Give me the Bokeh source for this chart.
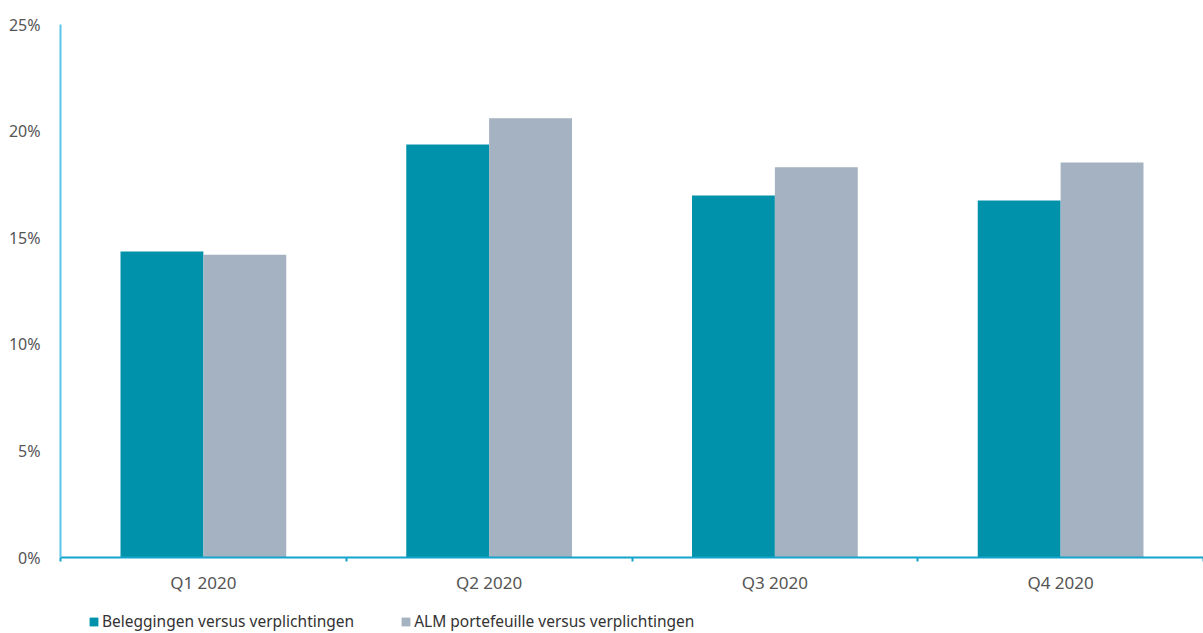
from bokeh.plotting import figure
from bokeh.layouts import column
from bokeh.models import (ColumnDataSource, FixedTicker, PrintfTickFormatter, Range1d,
                          Legend, LegendItem)
from bokeh.transform import dodge
from bokeh.embed import file_html
from bokeh.resources import INLINE

quarters = ["Q1 2020", "Q2 2020", "Q3 2020", "Q4 2020"]
beleggingen = [14.35, 19.37, 16.98, 16.75]
alm = [14.2, 20.6, 18.3, 18.53]
series_names = ["Beleggingen versus verplichtingen", "ALM portefeuille versus verplichtingen"]
y_ticks = [0, 5, 10, 15, 20, 25]

TEAL = "#0092aa"
GRAY = "#a4b2c1"
FONT = "Noto Sans"

pos = [i + 0.5 for i in range(len(quarters))]
src = ColumnDataSource(dict(x=pos, a=beleggingen, b=alm))

p = figure(output_backend="svg", toolbar_location=None,
           x_range=Range1d(0, len(quarters)), y_range=Range1d(0, 25),
           frame_width=1143, frame_height=533,
           min_border_left=60, min_border_right=0, min_border_top=24, min_border_bottom=0)
p.outline_line_color = None
p.grid.visible = False
p.background_fill_color = "white"

bw = 0.29
r1 = p.vbar(x=dodge("x", -bw / 2), top="a", width=bw, bottom=0, source=src,
            fill_color=TEAL, line_color=None)
r2 = p.vbar(x=dodge("x", bw / 2), top="b", width=bw, bottom=0, source=src,
            fill_color=GRAY, line_color=None)

# y axis
ya = p.yaxis[0]
ya.ticker = FixedTicker(ticks=y_ticks)
ya.formatter = PrintfTickFormatter(format="%d%%")
ya.axis_line_color = "#5cc6e9"
ya.axis_line_width = 2
ya.major_tick_line_color = None
ya.minor_tick_line_color = None
ya.major_label_text_font = FONT
ya.major_label_text_font_size = "16px"
ya.major_label_text_color = "#555555"
ya.major_label_standoff = 14

# x axis
xa = p.xaxis[0]
xa.ticker = FixedTicker(ticks=pos, minor_ticks=list(range(len(quarters) + 1)))
xa.major_label_overrides = {v: q for v, q in zip(pos, quarters)}
xa.axis_line_color = "#14a3cc"
xa.axis_line_width = 2
xa.major_tick_line_color = None
xa.major_tick_out = 0
xa.major_tick_in = 0
xa.minor_tick_line_color = "#14a3cc"
xa.minor_tick_line_width = 2
xa.minor_tick_out = 4
xa.minor_tick_in = 0
xa.axis_label_standoff = 0
xa.major_label_text_font = FONT
xa.major_label_text_font_size = "17px"
xa.major_label_text_color = "#555555"
xa.major_label_standoff = 9

# legend strip below the chart (bars here fall outside its y range, only swatches show)
pl = figure(output_backend="svg", toolbar_location=None, width=1203, height=40,
            x_range=Range1d(0, len(quarters)), y_range=Range1d(100, 101),
            x_axis_type=None, y_axis_type=None, min_border=0)
pl.outline_line_color = None
pl.grid.visible = False
l1 = pl.vbar(x=dodge("x", -bw / 2), top="a", width=bw, bottom=0, source=src,
             fill_color=TEAL, line_color=None)
l2 = pl.vbar(x=dodge("x", bw / 2), top="b", width=bw, bottom=0, source=src,
             fill_color=GRAY, line_color=None)
legend = Legend(items=[LegendItem(label=series_names[0], renderers=[l1]),
                       LegendItem(label=series_names[1], renderers=[l2])],
                orientation="horizontal", location=(28, 4),
                label_text_font=FONT, label_text_font_size="15.5px",
                label_text_color="#333333", glyph_width=11, glyph_height=11,
                label_height=16, label_standoff=3, spacing=46, padding=0, margin=0,
                border_line_color=None, background_fill_alpha=0)
pl.add_layout(legend, "center")

open("out.html", "w").write(file_html(column(p, pl, spacing=0), INLINE))
